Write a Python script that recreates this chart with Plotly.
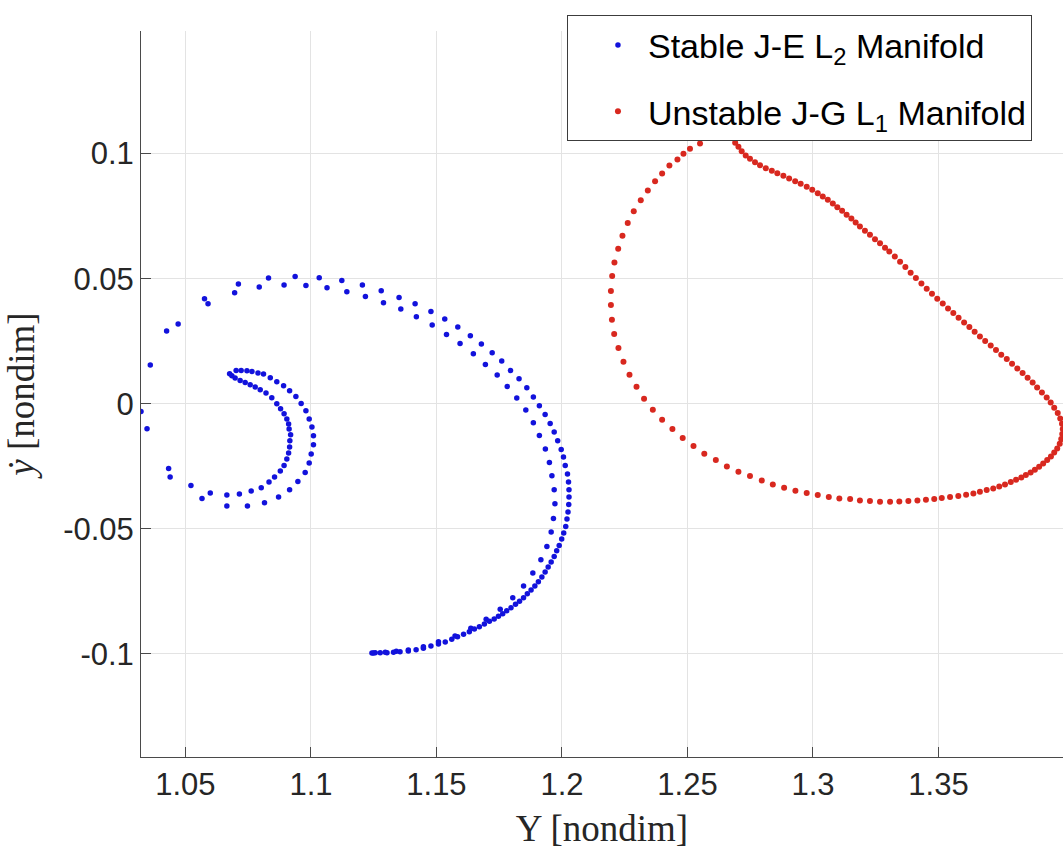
import plotly.graph_objects as go

# ---- data ----
blue_x = [
    1.0831, 1.0794, 1.0711, 1.0696, 1.0893, 1.0937, 1.0980, 1.1033, 1.1064, 1.1123, 1.1143,
    1.0576, 1.0590, 1.0471, 1.0425, 1.0360, 1.0323, 1.0347, 1.0433, 1.0439, 1.0522, 1.0566,
    1.0599, 1.0665, 1.0665, 1.0715, 1.0747, 1.0762, 1.0802, 1.0815, 1.0833, 1.0871, 1.0855,
    1.0878, 1.0915, 1.0893, 1.0904, 1.0948, 1.0911, 1.0977, 1.0915, 1.0993, 1.0916, 1.1001,
    1.0919, 1.1010, 1.0913, 1.1010, 1.0911, 1.1004, 1.0904, 1.0993, 1.0893, 1.0980, 1.0879,
    1.0961, 1.0864, 1.0940, 1.0844, 1.0915, 1.0821, 1.0891, 1.0798, 1.0864, 1.0778, 1.0838,
    1.0758, 1.0811, 1.0738, 1.0789, 1.0718, 1.0765, 1.0698, 1.0745, 1.0685, 1.0722, 1.0676,
    1.0702,
    1.1205, 1.1217, 1.1280, 1.1289, 1.1351, 1.1358, 1.1415, 1.1420, 1.1478, 1.1483, 1.1533,
    1.1540, 1.1585, 1.1594, 1.1635, 1.1647, 1.1679, 1.1695, 1.1722, 1.1742, 1.1760, 1.1782,
    1.1795, 1.1820, 1.1829, 1.1856, 1.1860, 1.1886, 1.1886, 1.1910, 1.1910, 1.1934, 1.1933,
    1.1953, 1.1969, 1.1983, 1.1997, 1.2006,
    1.1950, 1.1960, 1.1969, 1.1972, 1.1966, 1.1957, 1.1940, 1.1916, 1.1884, 1.1847, 1.1804,
    1.1754, 1.1698, 1.1637, 1.1574, 1.1508, 1.1448, 1.1388, 1.1340, 1.1296, 1.1249,
    1.2013, 1.2022, 1.2026, 1.2028, 1.2028, 1.2027, 1.2024, 1.2020, 1.2015, 1.2007, 1.1999,
    1.1989, 1.1979, 1.1969, 1.1957, 1.1945, 1.1933, 1.1920, 1.1906, 1.1892, 1.1877, 1.1862,
    1.1847, 1.1831, 1.1815, 1.1797, 1.1780, 1.1764, 1.1747, 1.1730, 1.1711, 1.1691, 1.1671,
    1.1651, 1.1631, 1.1608, 1.1584, 1.1561, 1.1535, 1.1508, 1.1478, 1.1448, 1.1419, 1.1388,
    1.1355, 1.1329, 1.1303, 1.1276, 1.1256, 1.1243,
]
blue_y = [
    0.0503, 0.0467, 0.0479, 0.0444, 0.0475, 0.0509, 0.0473, 0.0504, 0.0464, 0.0493, 0.0448,
    0.0420, 0.0400, 0.0319, 0.0291, 0.0155, -0.0031, -0.0100, -0.0259, -0.0293, -0.0327, -0.0379,
    -0.0357, -0.0365, -0.0409, -0.0361, -0.0409, -0.0349, -0.0336, -0.0396, -0.0313, -0.0373, -0.0293,
    -0.0269, -0.0344, -0.0247, -0.0221, -0.0311, -0.0197, -0.0275, -0.0173, -0.0237, -0.0148, -0.0201,
    -0.0124, -0.0164, -0.0101, -0.0128, -0.0081, -0.0093, -0.0061, -0.0061, -0.0040, -0.0028, -0.0020,
    0.0001, 0.0000, 0.0029, 0.0024, 0.0052, 0.0043, 0.0072, 0.0056, 0.0088, 0.0067, 0.0104,
    0.0076, 0.0119, 0.0085, 0.0123, 0.0093, 0.0129, 0.0103, 0.0132, 0.0112, 0.0133, 0.0120,
    0.0133,
    0.0475, 0.0429, 0.0452, 0.0404, 0.0425, 0.0379, 0.0400, 0.0348, 0.0369, 0.0315, 0.0339,
    0.0277, 0.0307, 0.0241, 0.0272, 0.0200, 0.0239, 0.0157, 0.0204, 0.0115, 0.0171, 0.0069,
    0.0133, 0.0023, 0.0100, -0.0025, 0.0064, -0.0076, 0.0027, -0.0127, -0.0008, -0.0181, -0.0043,
    -0.0079, -0.0113, -0.0148, -0.0183, -0.0213,
    -0.0235, -0.0288, -0.0344, -0.0400, -0.0459, -0.0513, -0.0571, -0.0624, -0.0677, -0.0728, -0.0775,
    -0.0821, -0.0861, -0.0897, -0.0928, -0.0951, -0.0971, -0.0984, -0.0989, -0.0993, -0.0996,
    -0.0247, -0.0281, -0.0313, -0.0344, -0.0373, -0.0403, -0.0433, -0.0461, -0.0491, -0.0517, -0.0541,
    -0.0567, -0.0588, -0.0611, -0.0633, -0.0653, -0.0673, -0.0692, -0.0711, -0.0728, -0.0744, -0.0759,
    -0.0775, -0.0789, -0.0801, -0.0815, -0.0827, -0.0839, -0.0849, -0.0860, -0.0869, -0.0880, -0.0891,
    -0.0900, -0.0911, -0.0921, -0.0931, -0.0941, -0.0952, -0.0960, -0.0968, -0.0977, -0.0983, -0.0988,
    -0.0991, -0.0993, -0.0995, -0.0995, -0.0995, -0.0996,
]

red_x = [
    1.2550, 1.2510, 1.2484, 1.2460, 1.2428, 1.2399, 1.2371, 1.2342, 1.2314, 1.2286, 1.2262,
    1.2241, 1.2224, 1.2209, 1.2200, 1.2195, 1.2195, 1.2199, 1.2208, 1.2225, 1.2245, 1.2269,
    1.2297, 1.2327, 1.2362, 1.2399, 1.2440, 1.2481, 1.2524, 1.2567, 1.2613, 1.2657, 1.2703,
    1.2749, 1.2796, 1.2840, 1.2885, 1.2930, 1.2975, 1.3019, 1.3063, 1.3105,
    1.3148, 1.3187, 1.3227, 1.3267, 1.3307, 1.3344, 1.3380, 1.3416, 1.3450, 1.3483, 1.3513,
    1.3546, 1.3579, 1.3610, 1.3639, 1.3665, 1.3692, 1.3718, 1.3742, 1.3765, 1.3788, 1.3809,
    1.3830, 1.3848, 1.3867, 1.3884, 1.3901, 1.3917, 1.3933, 1.3948, 1.3961, 1.3973, 1.3983,
    1.3989, 1.3993, 1.3995, 1.3992, 1.3985, 1.3975, 1.3961, 1.3947, 1.3931, 1.3912, 1.3893,
    1.3875, 1.3855, 1.3835, 1.3814, 1.3793, 1.3772, 1.3750, 1.3729, 1.3708, 1.3686, 1.3665,
    1.3644, 1.3623, 1.3602, 1.3580, 1.3559, 1.3538, 1.3517, 1.3495, 1.3474, 1.3453, 1.3432,
    1.3410, 1.3389, 1.3368, 1.3347, 1.3326, 1.3304,
    1.3287, 1.3267, 1.3247, 1.3227, 1.3207,
    1.3187, 1.3170, 1.3153, 1.3134, 1.3116, 1.3097, 1.3079, 1.3059, 1.3039, 1.3019, 1.2997,
    1.2975, 1.2951, 1.2929, 1.2905, 1.2882, 1.2858, 1.2836, 1.2812, 1.2789, 1.2769, 1.2749,
    1.2732, 1.2716, 1.2703, 1.2690,
]
red_y = [
    0.1040, 0.1019, 0.0999, 0.0976, 0.0952, 0.0920, 0.0889, 0.0852, 0.0813, 0.0769, 0.0723,
    0.0672, 0.0620, 0.0565, 0.0511, 0.0451, 0.0395, 0.0336, 0.0279, 0.0223, 0.0168, 0.0116,
    0.0068, 0.0020, -0.0024, -0.0064, -0.0101, -0.0137, -0.0169, -0.0200, -0.0225, -0.0251, -0.0272,
    -0.0289, -0.0307, -0.0323, -0.0336, -0.0348, -0.0357, -0.0365, -0.0373, -0.0379,
    -0.0381, -0.0387, -0.0389, -0.0392, -0.0392, -0.0391, -0.0389, -0.0387, -0.0384, -0.0381, -0.0377,
    -0.0373, -0.0369, -0.0364, -0.0359, -0.0352, -0.0345, -0.0339, -0.0331, -0.0323, -0.0313, -0.0304,
    -0.0295, -0.0285, -0.0275, -0.0264, -0.0252, -0.0239, -0.0225, -0.0211, -0.0195, -0.0179, -0.0160,
    -0.0141, -0.0121, -0.0101, -0.0080, -0.0059, -0.0037, -0.0016, 0.0005, 0.0025, 0.0045, 0.0065,
    0.0085, 0.0104, 0.0123, 0.0141, 0.0160, 0.0179, 0.0196, 0.0215, 0.0233, 0.0251, 0.0269,
    0.0288, 0.0307, 0.0325, 0.0344, 0.0363, 0.0381, 0.0401, 0.0420, 0.0440, 0.0460, 0.0481,
    0.0503, 0.0524, 0.0547, 0.0568, 0.0589, 0.0609,
    0.0624, 0.0642, 0.0658, 0.0676, 0.0692,
    0.0709, 0.0725, 0.0741, 0.0756, 0.0771, 0.0785, 0.0800, 0.0815, 0.0828, 0.0841, 0.0855,
    0.0867, 0.0879, 0.0889, 0.0900, 0.0911, 0.0921, 0.0931, 0.0941, 0.0953, 0.0965, 0.0979,
    0.0992, 0.1009, 0.1027, 0.1043,
]

x_ticks = [1.05, 1.1, 1.15, 1.2, 1.25, 1.3, 1.35]
x_tick_labels = ["1.05", "1.1", "1.15", "1.2", "1.25", "1.3", "1.35"]
y_ticks = [-0.1, -0.05, 0, 0.05, 0.1]
y_tick_labels = ["-0.1", "-0.05", "0", "0.05", "0.1"]

series_names = ["Stable J-E L<sub>2</sub> Manifold", "Unstable J-G L<sub>1</sub> Manifold"]

SANS = "Liberation Sans, Arial, Helvetica, sans-serif"
SERIF = "Liberation Serif, DejaVu Serif, Times New Roman, serif"
AXC = "#4a4a4a"
TXT = "#262626"

fig = go.Figure()
fig.add_trace(go.Scatter(x=blue_x, y=blue_y, mode="markers", name=series_names[0],
                         legendgroup="a",
                         marker=dict(color="#1212DC", size=5.5, symbol="circle", line=dict(width=0))))
fig.add_trace(go.Scatter(x=red_x, y=red_y, mode="markers", name=series_names[1],
                         legendgroup="b",
                         marker=dict(color="#D8281F", size=6, symbol="circle", line=dict(width=0))))

axis_common = dict(
    showline=True, linecolor=AXC, linewidth=1, mirror=False,
    ticks="inside", ticklen=10, tickcolor=AXC, tickwidth=1,
    showgrid=True, gridcolor="#E3E3E3", gridwidth=1, zeroline=False,
    tickfont=dict(family=SANS, size=31, color=TXT),
)

fig.update_layout(
    width=1064, height=850,
    margin=dict(l=141, r=1, t=31, b=93, pad=0),
    paper_bgcolor="white", plot_bgcolor="white",
    showlegend=True,
    legend=dict(x=0.462, y=1.0214, xanchor="left", yanchor="top",
                bgcolor="white", bordercolor="#3c3c3c", borderwidth=1,
                font=dict(family=SANS, size=34, color="black"),
                tracegroupgap=19, itemwidth=50, indentation=20),
    xaxis=dict(range=[1.0323, 1.3996], tickvals=x_ticks, ticktext=x_tick_labels,
               title=dict(text="Y [nondim]", font=dict(family=SERIF, size=37, color=TXT), standoff=13),
               **axis_common),
    yaxis=dict(range=[-0.1412, 0.149], tickvals=y_ticks, ticktext=y_tick_labels,
               title=dict(text="<i>ẏ</i> [nondim]", font=dict(family=SERIF, size=37, color=TXT), standoff=17),
               **axis_common),
)

fig.write_html("out.html", config={"displayModeBar": False},
               post_script="document.body.style.margin='0';document.body.style.overflow='hidden';")
